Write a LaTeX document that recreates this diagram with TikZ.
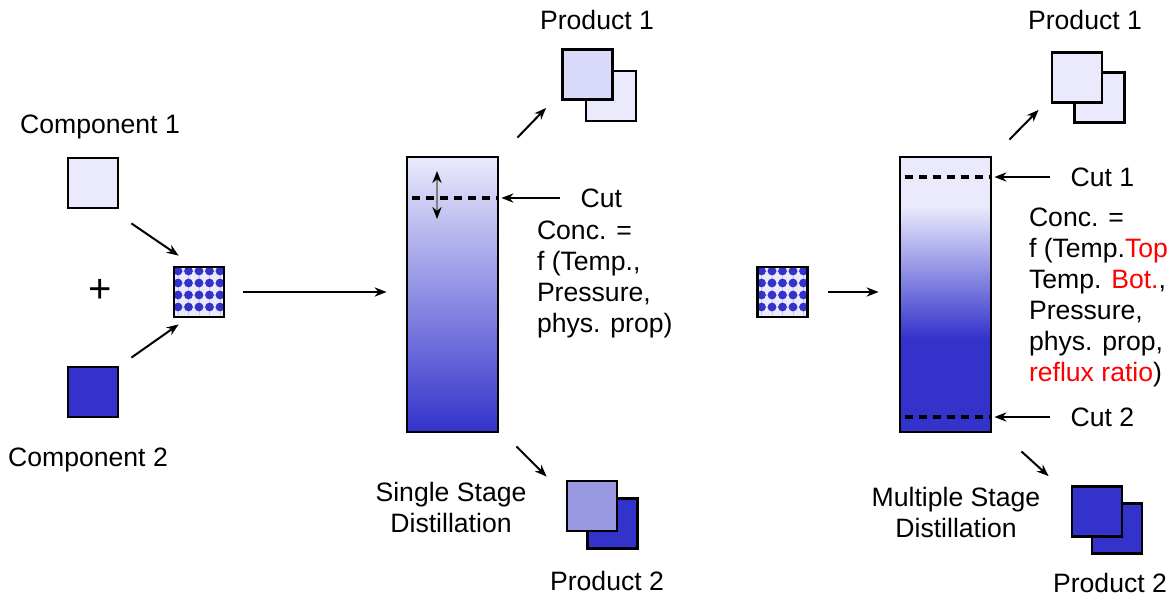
\documentclass[tikz,border=0pt]{standalone}
\usepackage{fontspec}
\setmainfont{Liberation Sans}
\usetikzlibrary{positioning,calc,arrows.meta}
\definecolor{lightc}{RGB}{234,234,252}
\definecolor{palec}{RGB}{217,217,250}
\definecolor{midc}{RGB}{153,153,226}
\definecolor{darkc}{RGB}{51,51,204}
\pgfdeclareverticalshading{multistage}{100bp}{color(0bp)=(darkc); color(42bp)=(darkc); color(66bp)=(lightc); color(100bp)=(lightc)}

\begin{document}
\begin{tikzpicture}[x=0.5pt, y=-0.5pt, ->, >={Stealth[length=6pt,width=4.6pt]}, line width=1pt, font=\fontsize{13.3}{15.5}\selectfont,
	sq node/.style={draw, line width=1.4pt, minimum size=25pt, inner sep=0pt},
	mix node/.style={sq node, fill=lightc, path picture={
		\foreach \i in {0,...,4} \foreach \j in {0,...,3} {
			\draw[-, darkc!25, line width=0.5pt] ([shift={(4+10.5*\i,0)}]path picture bounding box.north west) -- ++(0,52);
			\draw[-, darkc!25, line width=0.5pt] ([shift={(0,4+12*\j)}]path picture bounding box.north west) -- ++(54,0);}
		\foreach \i in {0,...,4} \foreach \j in {0,...,3}
			\fill[darkc] ([shift={(4+10.5*\i,4+12*\j)}]path picture bounding box.north west) circle (2.2pt);}},
	column node/.style={draw, line width=1.4pt, minimum width=45.5pt, minimum height=137.5pt, inner sep=0pt},
	text node/.style={align=left, inner sep=0pt, anchor=north west},
	cut line/.style={-, line width=1.6pt, dash pattern=on 4pt off 3pt}]
	\useasboundingbox (0,0) rectangle (1168,596);
	% single stage
	\node at (100,127) {Component 1};
	\node[sq node, fill=lightc] (C1) at (93,183) {};
	\node[font=\fontsize{20}{22}\selectfont] at (100,291) {+};
	\node[mix node] (M1) at (199,292) {};
	\node[sq node, fill=darkc] (C2) at (93,392) {};
	\node at (88,460) {Component 2};
	\node[column node, top color=lightc, bottom color=darkc] (D1) at (452.5,294.5) {};
	\node[anchor=west] (cut) at (573,198) {Cut};
	\node[text node] (F1) at (536,220) {Conc. =\\f (Temp.,\\Pressure,\\phys. prop)};
	\node[sq node, fill=lightc] (P1b) at (611,96) {};
	\node[sq node, fill=palec] (P1a) at (587.5,74.5) {};
	\node at (597,20) {Product 1};
	\node[sq node, fill=darkc] (P2b) at (612.5,523.5) {};
	\node[sq node, fill=midc] (P2a) at (592,506) {};
	\node at (607,581) {Product 2};
	\node[align=center] at (451,507) {Single Stage\\Distillation};
	\draw ([shift={(12,14)}]C1.south east) -- ([shift={(6,-10)}]M1.north west);
	\draw ([shift={(12,-8)}]C2.north east) -- ([shift={(6,6)}]M1.south west);
	\draw ([shift={(18,0)}]M1.east) -- ([shift={(-19,0)}]D1.west |- M1.east);
	\draw[cut line] ([shift={(6,0)}]D1.west |- cut.west) -- (D1.east |- cut.west);
	\draw[{Stealth[black,length=6pt,width=4.6pt]}-{Stealth[black,length=6pt,width=4.6pt]}, gray] (437,171) -- (437,219);
	\draw ([shift={(-13,0)}]cut.west) -- ([shift={(2,0)}]D1.east |- cut.west);
	\draw ([shift={(18,-18)}]D1.north east) -- ([shift={(-15,7)}]P1a.south west);
	\draw ([shift={(17,13)}]D1.south east) -- ([shift={(-19,-3)}]P2a.north west);
	% multiple stage
	\node[mix node] (M2) at (782.5,292) {};
	\node[column node, shade, shading=multistage] (D2) at (945.5,294.5) {};
	\node[anchor=west] (cut1) at (1063,177) {Cut 1};
	\node[anchor=west] (cut2) at (1063,417) {Cut 2};
	\node[text node] (F2) at (1028,207) {Conc. =\\f (Temp.\textcolor{red}{Top}\\Temp. \textcolor{red}{Bot.},\\Pressure,\\phys. prop,\\\textcolor{red}{reflux ratio})};
	\node[sq node, fill=lightc] (P3b) at (1099.5,97.5) {};
	\node[sq node, fill=lightc] (P3a) at (1077,77.5) {};
	\node at (1085,20) {Product 1};
	\node[sq node, fill=darkc] (P4b) at (1117,528.5) {};
	\node[sq node, fill=darkc] (P4a) at (1097,511.5) {};
	\node at (1110,583) {Product 2};
	\node[align=center] at (956,512) {Multiple Stage\\Distillation};
	\draw ([shift={(19,0)}]M2.east) -- ([shift={(-20,0)}]D2.west |- M2.east);
	\draw[cut line] ([shift={(6,0)}]D2.west |- cut1.west) -- (D2.east |- cut1.west);
	\draw[cut line] ([shift={(6,0)}]D2.west |- cut2.west) -- (D2.east |- cut2.west);
	\draw ([shift={(-13,0)}]cut1.west) -- ([shift={(2,0)}]D2.east |- cut1.west);
	\draw ([shift={(-13,0)}]cut2.west) -- ([shift={(2,0)}]D2.east |- cut2.west);
	\draw ([shift={(17,-16)}]D2.north east) -- ([shift={(-12,6)}]P3a.south west);
	\draw ([shift={(29,18)}]D2.south east) -- ([shift={(-22,-9)}]P4a.north west);
\end{tikzpicture}
\end{document}
